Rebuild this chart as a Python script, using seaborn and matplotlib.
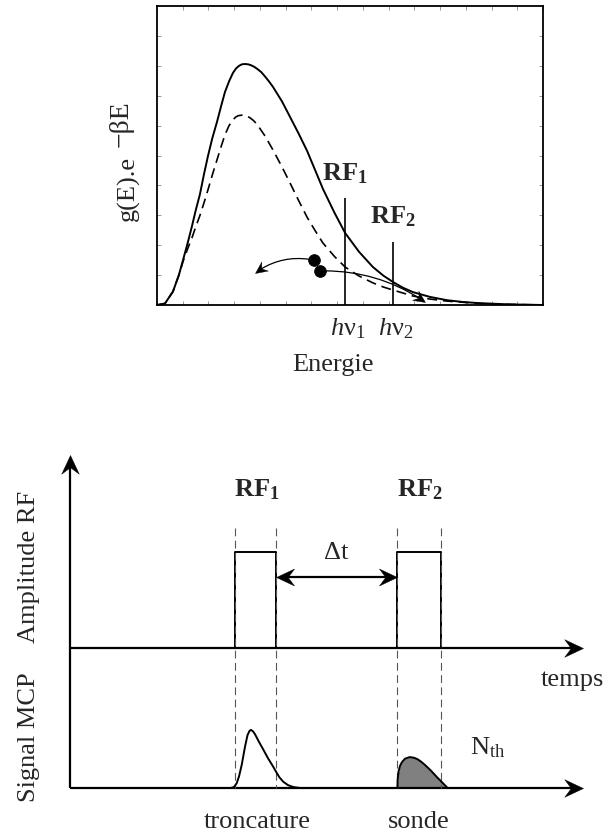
import numpy as np
import pandas as pd
import matplotlib
matplotlib.use("Agg")
import matplotlib.pyplot as plt
import seaborn as sns
from matplotlib.patches import FancyArrowPatch
from matplotlib.path import Path
from matplotlib.markers import MarkerStyle
from matplotlib.transforms import Affine2D

# ---------------- data : top panel (energy distribution, arbitrary units) ----------------
energy_full = [0, 0.31, 0.62, 0.85, 1.01, 1.2, 1.36, 1.5, 1.67, 1.82, 1.98, 2.15, 2.33, 2.5,
               2.64, 2.8, 2.95, 3.07, 3.19, 3.3, 3.42, 3.54, 3.65, 3.77, 3.89, 4.05, 4.2,
               4.35, 4.51, 4.85, 5.17, 5.5, 5.83, 6.15, 6.45, 6.9, 7.31, 7.85, 8.39, 8.8,
               9.17, 9.55, 9.95, 10.61, 11.27, 11.9, 12.55, 13.72, 15.0]
density_full = [0, 0.005, 0.045, 0.10, 0.15, 0.21, 0.264, 0.315, 0.371, 0.435, 0.498, 0.558,
                0.612, 0.668, 0.712, 0.748, 0.776, 0.791, 0.800, 0.805, 0.806, 0.805, 0.802,
                0.797, 0.790, 0.779, 0.764, 0.748, 0.729, 0.682, 0.629, 0.574, 0.516, 0.450,
                0.388, 0.308, 0.241, 0.178, 0.127, 0.098, 0.077, 0.058, 0.043, 0.027, 0.016,
                0.010, 0.006, 0.002, 0.0]
energy_trunc = [0, 0.31, 0.62, 0.85, 1.01, 1.2, 1.36, 1.5, 1.67, 1.82, 1.98, 2.15, 2.33, 2.5,
                2.64, 2.8, 2.95, 3.05, 3.15, 3.3, 3.45, 3.6, 3.75, 3.89, 4.2, 4.51, 4.85,
                5.17, 5.5, 5.83, 6.15, 6.45, 6.9, 7.31, 7.85, 8.39, 8.8, 9.17, 9.95, 10.6,
                11.27, 12.55, 13.7, 15.0]
density_trunc = [0, 0.005, 0.045, 0.10, 0.145, 0.19, 0.225, 0.26, 0.30, 0.34, 0.385, 0.435,
                 0.485, 0.532, 0.569, 0.600, 0.619, 0.628, 0.633, 0.635, 0.633, 0.627, 0.617,
                 0.604, 0.565, 0.518, 0.463, 0.408, 0.350, 0.294, 0.248, 0.207, 0.162, 0.127,
                 0.097, 0.074, 0.060, 0.050, 0.030, 0.020, 0.013, 0.005, 0.002, 0.0]
rf_energy = [7.31, 9.17]
rf_height = [0.358, 0.211]
rf_names = [r"$\mathbf{RF_1}$", r"$\mathbf{RF_2}$"]
hnu_names = [r"$h\mathrm{\nu}_1$", r"$h\mathrm{\nu}_2$"]
atom_E = [6.10, 6.34]
atom_y = [0.150, 0.114]
arrow_tip_E = [3.81, 10.42]
arrow_tip_y = [0.107, 0.010]

# ---------------- data : bottom panel (time sequence) ----------------
pulse_start = [16.5, 32.7]
pulse_end = [20.6, 37.1]
pulse_amp = 1.0
trunc_t = [16.07, 16.4, 16.67, 16.9, 17.17, 17.5, 17.75, 17.95, 18.1, 18.3, 18.5, 18.9,
           19.33, 19.8, 20.33, 20.6, 20.95, 21.33, 21.8, 22.33, 23.0]
trunc_sig = [0, 0.01, 0.05, 0.12, 0.24, 0.43, 0.55, 0.595, 0.605, 0.59, 0.56, 0.48,
             0.40, 0.31, 0.22, 0.17, 0.11, 0.065, 0.03, 0.01, 0]
probe_t = [32.74, 32.76, 32.85, 33.0, 33.2, 33.5, 33.97, 34.4, 34.75, 35.1, 35.5, 36.1,
           36.68, 37.2, 37.76]
probe_sig = [0, 0.08, 0.17, 0.23, 0.27, 0.305, 0.322, 0.315, 0.30, 0.275, 0.24, 0.18,
             0.115, 0.06, 0]
signal_names = ["troncature", "sonde"]

# ---------------- style ----------------
sns.set_theme(style="white")
plt.rcParams["font.family"] = ["Liberation Serif", "DejaVu Serif"]
plt.rcParams["mathtext.fontset"] = "custom"
plt.rcParams["mathtext.rm"] = "Liberation Serif"
plt.rcParams["mathtext.it"] = "Liberation Serif:italic"
plt.rcParams["mathtext.bf"] = "Liberation Serif:bold"
FS = 19

# stealth-like arrow head marker (tip at the origin, pointing to +x)
_head = Path([(0, 0), (-1, 0.47), (-0.65, 0), (-1, -0.47), (0, 0)],
             [Path.MOVETO, Path.LINETO, Path.LINETO, Path.LINETO, Path.CLOSEPOLY])


def head(axis, x, y, angle, ms):
    m = MarkerStyle(_head, transform=Affine2D().rotate_deg(angle))
    axis.plot([x], [y], marker=m, ms=ms, color="black", mec="black", mew=0.3, ls="none",
              zorder=6, clip_on=False)


fig = plt.figure(figsize=(6.06, 8.36), dpi=100)

# ================= top panel =================
ax = fig.add_axes([157 / 606, (836 - 305) / 836, 386 / 606, 299 / 836])
df_full = pd.DataFrame({"E": energy_full, "g": density_full})
df_trunc = pd.DataFrame({"E": energy_trunc, "g": density_trunc})
sns.lineplot(data=df_full, x="E", y="g", ax=ax, color="black", lw=1.4,
             estimator=None, sort=False)
sns.lineplot(data=df_trunc, x="E", y="g", ax=ax, color="black", lw=1.2,
             estimator=None, sort=False)
ax.lines[-1].set_dashes((6, 3.5))
ax.set_xlim(0, 15)
ax.set_ylim(0, 1)
ax.set_xticks(np.arange(0, 16, 1))
ax.set_yticks(np.arange(0, 1.01, 0.1))
ax.tick_params(direction="in", length=3, width=0.6, color="#888888",
               top=True, right=True, bottom=True, left=True,
               labelbottom=False, labelleft=False)
for s in ax.spines.values():
    s.set_color("black")
    s.set_linewidth(1.3)
ax.set_xlabel("")
ax.set_ylabel("")

for E, h, name, hn, dy in zip(rf_energy, rf_height, rf_names, hnu_names, [0.08, 0.083]):
    ax.vlines(E, 0, h, color="black", lw=1.2)
    ax.text(E, h + dy, name, ha="center", va="center", fontsize=FS)
    ax.text(E + 0.1, -0.08, hn, ha="center", va="center", fontsize=FS, clip_on=False)

ax.text(6.83, -0.20, "Energie", ha="center", va="center", fontsize=FS, clip_on=False)
ax.text(-1.13, 0.39, "g(E).e", ha="center", va="center", rotation=90, fontsize=FS,
        clip_on=False)
ax.text(-1.40, 0.605, "\u2212\u03b2E", ha="center", va="center", rotation=90, fontsize=20,
        clip_on=False)

sns.scatterplot(x=atom_E, y=atom_y, ax=ax, color="black", s=70, edgecolor="black", zorder=5)
for (x0, y0_), (x1, y1), rad in zip(zip(atom_E, atom_y), zip(arrow_tip_E, arrow_tip_y),
                                    [0.22, -0.16]):
    ax.add_patch(FancyArrowPatch((x0, y0_), (x1, y1), connectionstyle=f"arc3,rad={rad}",
                                 arrowstyle="-", lw=0.9, color="black",
                                 shrinkA=4, shrinkB=5))
    p0 = ax.transData.transform((x0, y0_))
    p1 = ax.transData.transform((x1, y1))
    d = p1 - p0
    c = (p0 + p1) / 2 + rad * np.array([d[1], -d[0]])
    ang = np.degrees(np.arctan2(p1[1] - c[1], p1[0] - c[0]))
    head(ax, x1, y1, ang, 17)

# ================= bottom panel =================
bx = fig.add_axes([0, 0, 1, (836 - 440) / 836])
bx.set_xlim(-7, 53.6)
bx.set_ylim(-1.958, 2.1667)
bx.axis("off")
base_mcp = -1.458
t_end = 51.3
y_top = 2.01

# axes with arrow heads
bx.plot([0, 0], [base_mcp, y_top - 0.1], color="black", lw=1.6, solid_capstyle="butt")
head(bx, 0, y_top, 90, 27)
for yy in (0, base_mcp):
    bx.plot([0, t_end - 1.0], [yy, yy], color="black", lw=1.6, solid_capstyle="butt")
    head(bx, t_end, yy, 0, 27)

# RF pulses
for t0, t1, name in zip(pulse_start, pulse_end, rf_names):
    pdf = pd.DataFrame({"t": [t0, t0, t1, t1], "a": [0, pulse_amp, pulse_amp, 0]})
    sns.lineplot(data=pdf, x="t", y="a", ax=bx, color="black", lw=1.4,
                 estimator=None, sort=False)
    for tt in (t0, t1):
        bx.plot([tt, tt], [1.25, base_mcp], color="#555555", lw=0.8, dashes=(7, 4))
    bx.text((t0 + t1) / 2 + 0.1, 1.65, name, ha="center", va="center", fontsize=FS)

# delta t
bx.plot([pulse_end[0] + 1.0, pulse_start[1] - 1.0], [0.74, 0.74], color="black", lw=1.6,
        solid_capstyle="butt")
head(bx, pulse_end[0], 0.74, 180, 26)
head(bx, pulse_start[1], 0.74, 0, 26)
bx.text(26.6, 0.99, "\u0394t", ha="center", va="center", fontsize=FS)

# MCP signals
df_tr = pd.DataFrame({"t": trunc_t, "s": np.array(trunc_sig) + base_mcp})
sns.lineplot(data=df_tr, x="t", y="s", ax=bx, color="black", lw=1.4,
             estimator=None, sort=False)
probe_y = np.array(probe_sig) + base_mcp
bx.fill_between(probe_t, base_mcp, probe_y, color="#808080", lw=0)
sns.lineplot(x=probe_t, y=probe_y, ax=bx, color="black", lw=1.4, estimator=None, sort=False)

bx.text(40.0, -1.04, r"$\mathrm{N_{th}}$", ha="left", va="center", fontsize=FS)
bx.text(47.1, -0.333, "temps", ha="left", va="center", fontsize=FS)
bx.text(18.7, -1.81, signal_names[0], ha="center", va="center", fontsize=FS)
bx.text(34.9, -1.81, signal_names[1], ha="center", va="center", fontsize=FS)
bx.text(-4.1, 0.84, "Amplitude RF", ha="center", va="center", rotation=90, fontsize=FS)
bx.text(-4.1, -0.93, "Signal MCP", ha="center", va="center", rotation=90, fontsize=FS)

fig.savefig("out.png", dpi=100)
